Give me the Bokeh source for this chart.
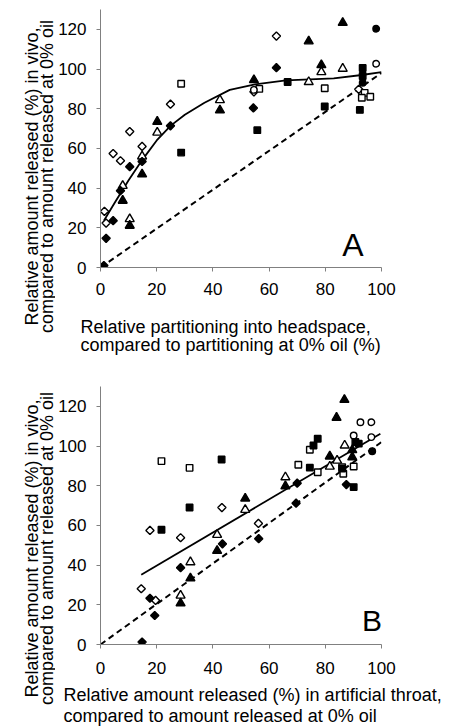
import math
from bokeh.plotting import figure
from bokeh.layouts import column, row
from bokeh.models import Label, Range1d, FixedTicker
from bokeh.embed import file_html
from bokeh.resources import INLINE

# ---------------- Panel A data (x: relative partitioning into headspace, y: in vivo) ----------------
a_fd_x = [1.2, 2.0, 4.5, 7.1, 10.4, 14.8, 24.9, 54.4, 62.6]
a_fd_y = [1.0, 14.7, 23.6, 38.7, 50.8, 53.4, 71.4, 80.4, 100.7]
a_od_x = [1.4, 2.0, 4.5, 7.1, 10.4, 14.8, 24.9, 62.6, 54.6, 91.9]
a_od_y = [28.3, 22.4, 57.4, 53.8, 68.5, 61.0, 82.3, 116.6, 88.5, 89.8]
a_ft_x = [7.9, 10.4, 14.8, 20.2, 42.5, 54.6, 74.1, 78.6, 86.2]
a_ft_y = [33.7, 21.1, 47.0, 73.5, 79.2, 94.5, 114.0, 102.0, 123.3]
a_ot_x = [7.9, 10.4, 14.8, 20.2, 42.5, 74.1, 78.6, 86.2]
a_ot_y = [41.2, 24.4, 56.0, 68.0, 84.4, 93.5, 98.5, 100.2]
a_fs_x = [28.7, 55.8, 79.8, 92.3, 93.3, 93.3, 66.6]
a_fs_y = [57.9, 69.2, 81.1, 79.4, 100.5, 96.5, 93.5]
a_os_x = [28.7, 79.8, 56.5, 94.0, 96.0, 93.0]
a_os_y = [92.6, 90.3, 90.0, 88.0, 86.0, 85.5]
a_fc_x = [98.1, 93.3]
a_fc_y = [120.3, 93.1]
a_oc_x = [98.1, 54.6]
a_oc_y = [102.7, 89.5]
a_fit_x = [1.2, 5, 10, 15, 20, 25, 30, 37, 46, 55, 66, 83, 93, 100]
a_fit_y = [23.6, 32.5, 44, 54.5, 64, 71.5, 77, 83, 89.5, 92.3, 94.3, 95.3, 97, 98.5]
a_ref_x = [0, 100]
a_ref_y = [0, 98]

# ---------------- Panel B data (x: artificial throat, y: in vivo) ----------------
b_fd_x = [14.8, 19.3, 17.6, 28.5, 43.4, 56.3, 69.6, 70.0, 87.5]
b_fd_y = [1.2, 14.6, 23.3, 38.7, 50.7, 53.3, 71.2, 81.3, 80.6]
b_od_x = [14.5, 19.6, 17.6, 28.5, 43.2, 56.2]
b_od_y = [28.1, 22.2, 57.5, 53.8, 69.0, 61.0]
b_ft_x = [28.5, 32.0, 41.5, 51.5, 65.8, 81.6, 84.0, 86.8, 89.6, 89.6]
b_ft_y = [20.8, 33.4, 47.2, 73.6, 79.8, 94.8, 114.3, 123.3, 94.4, 98.0]
b_ot_x = [28.5, 32.0, 41.5, 51.5, 65.8, 81.6, 84.2, 86.9]
b_ot_y = [24.7, 41.5, 55.3, 67.9, 84.3, 89.7, 92.7, 100.3]
b_fs_x = [21.7, 31.7, 43.1, 77.3, 75.8, 74.5, 86.0, 90.1, 90.7, 91.9]
b_fs_y = [57.8, 69.0, 93.2, 103.7, 100.3, 89.1, 88.7, 79.3, 102.0, 101.2]
b_os_x = [21.7, 31.7, 74.5, 70.4, 77.3, 86.0, 90.1, 86.4]
b_os_y = [92.4, 89.0, 98.1, 90.6, 86.8, 89.4, 89.7, 86.0]
b_fc_x = [96.7]
b_fc_y = [97.4]
b_oc_x = [92.5, 96.4, 90.1, 96.4]
b_oc_y = [112.0, 112.0, 105.3, 104.5]
b_fit_x = [14.5, 99.6]
b_fit_y = [35.1, 106.2]
b_ref_x = [0, 100]
b_ref_y = [0, 102]

x_ticks = [0, 20, 40, 60, 80, 100]
y_ticks = [0, 20, 40, 60, 80, 100, 120]

y_title_1 = "Relative amount released (%) in vivo,"
y_title_2 = "compared to amount released at 0% oil"
a_x_title_1 = "Relative partitioning into headspace,"
a_x_title_2 = "compared to partitioning at 0% oil (%)"
b_x_title_1 = "Relative amount released (%) in artificial throat,"
b_x_title_2 = "compared to amount released at 0% oil"

FONT = "Liberation Sans"
AXIS_GREY = "#808080"
TITLE_SIZE = "18px"

LEFT_W = 55      # width of the strip holding the vertical axis titles
MAIN_W = 395     # width of the chart column


def make_fig(height, top, bottom, standoff_x):
    p = figure(width=MAIN_W, height=height, x_range=Range1d(0, 100), y_range=Range1d(0, 130),
               output_backend="svg", toolbar_location=None, title=None,
               min_border_left=45, min_border_right=MAIN_W - 45 - 281,
               min_border_top=top, min_border_bottom=bottom, frame_align=False)
    p.xgrid.visible = False
    p.ygrid.visible = False
    p.outline_line_color = None
    p.xaxis.ticker = FixedTicker(ticks=x_ticks)
    p.yaxis.ticker = FixedTicker(ticks=y_ticks)
    for ax in p.axis:
        ax.axis_line_color = AXIS_GREY
        ax.axis_line_width = 1
        ax.major_tick_line_color = AXIS_GREY
        ax.minor_tick_line_color = None
        ax.major_tick_in = 0
        ax.major_tick_out = 4
        ax.major_label_text_font = FONT
        ax.major_label_text_font_size = "17px"
        ax.major_label_text_color = "black"
    p.xaxis.major_label_standoff = standoff_x
    p.yaxis.major_label_standoff = 10
    return p


def text_fig(w, h):
    p = figure(width=w, height=h, x_range=Range1d(0, w), y_range=Range1d(0, h),
               output_backend="svg", toolbar_location=None, title=None, min_border=0,
               x_axis_location=None, y_axis_location=None, frame_align=False)
    p.grid.visible = False
    p.outline_line_color = None
    return p


def add_markers(p, series):
    for xs, ys, kind, filled in series:
        fill = "black" if filled else "white"
        if kind == "diamond":
            p.scatter(xs, ys, marker="square", angle=math.pi / 4, size=5.8,
                      fill_color=fill, line_color="black", line_width=1.4)
        elif kind == "triangle":
            p.scatter(xs, ys, marker="triangle", size=9,
                      fill_color=fill, line_color="black", line_width=1.4)
        elif kind == "square":
            p.scatter(xs, ys, marker="square", size=6.5,
                      fill_color=fill, line_color="black", line_width=1.4)
        else:
            p.scatter(xs, ys, marker="circle", size=6.5,
                      fill_color=fill, line_color="black", line_width=1.4)


def add_text(p, x, y, text, size=TITLE_SIZE, angle=0.0, align="left", baseline="alphabetic"):
    p.add_layout(Label(x=x, y=y, x_units="data", y_units="data", text=text,
                       text_font=FONT, text_font_size=size, text_color="black",
                       angle=angle, text_align=align, text_baseline=baseline))


# ---------------- Panel A ----------------
pa = make_fig(308, 9, 41, 11)
pa.line(a_ref_x, a_ref_y, line_color="black", line_width=2, line_dash="6 4")
pa.line(a_fit_x, a_fit_y, line_color="black", line_width=1.8)
add_markers(pa, [
    (a_od_x, a_od_y, "diamond", False),
    (a_ot_x, a_ot_y, "triangle", False),
    (a_os_x, a_os_y, "square", False),
    (a_oc_x, a_oc_y, "circle", False),
    (a_fd_x, a_fd_y, "diamond", True),
    (a_ft_x, a_ft_y, "triangle", True),
    (a_fs_x, a_fs_y, "square", True),
    (a_fc_x, a_fc_y, "circle", True),
])
add_text(pa, 86.0, 11.1, "A", size="32px")

# x-axis title strip for panel A (64 px tall)
xta = text_fig(MAIN_W, 64)
add_text(xta, 25, 46, a_x_title_1)
add_text(xta, 25, 28, a_x_title_2)

# ---------------- Panel B ----------------
pb = make_fig(310, 14, 38, 13)
pb.line(b_ref_x, b_ref_y, line_color="black", line_width=2, line_dash="6 4")
pb.line(b_fit_x, b_fit_y, line_color="black", line_width=1.8)
add_markers(pb, [
    (b_od_x, b_od_y, "diamond", False),
    (b_ot_x, b_ot_y, "triangle", False),
    (b_os_x, b_os_y, "square", False),
    (b_oc_x, b_oc_y, "circle", False),
    (b_fd_x, b_fd_y, "diamond", True),
    (b_ft_x, b_ft_y, "triangle", True),
    (b_fs_x, b_fs_y, "square", True),
    (b_fc_x, b_fc_y, "circle", True),
])
add_text(pb, 93.1, 12.1, "B", size="30px")

# x-axis title strip for panel B (44 px tall)
xtb = text_fig(MAIN_W, 44)
add_text(xtb, 8, 32, b_x_title_1)
add_text(xtb, 8, 11, b_x_title_2)

# vertical y-axis titles strip (full height)
TOTAL_H = 308 + 64 + 310 + 44
yt = text_fig(LEFT_W, TOTAL_H)
add_text(yt, 31, TOTAL_H - 176, y_title_1, angle=math.pi / 2, align="center", baseline="middle")
add_text(yt, 46, TOTAL_H - 176, y_title_2, angle=math.pi / 2, align="center", baseline="middle")
add_text(yt, 31, TOTAL_H - 548, y_title_1, angle=math.pi / 2, align="center", baseline="middle")
add_text(yt, 46, TOTAL_H - 548, y_title_2, angle=math.pi / 2, align="center", baseline="middle")

layout = row(yt, column(pa, xta, pb, xtb, spacing=0), spacing=0)
open("out.html", "w").write(file_html(layout, INLINE))
